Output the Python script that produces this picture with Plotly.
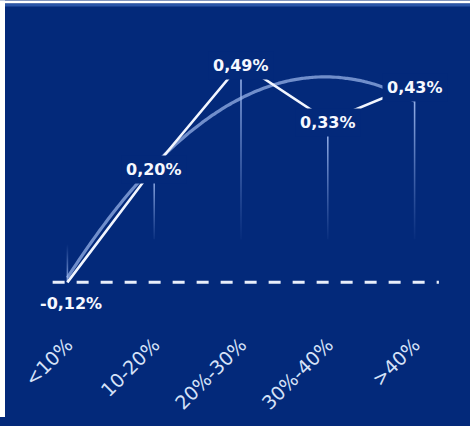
import numpy as np
import plotly.graph_objects as go

# ---- data ----
categories = ["<10%", "10-20%", "20%-30%", "30%-40%", ">40%"]
values = [-0.12, 0.20, 0.49, 0.33, 0.43]
value_labels = ["-0,12%", "0,20%", "0,49%", "0,33%", "0,43%"]

BG = "#03297a"
xpos = list(range(len(categories)))

fig = go.Figure()

# thin vertical fading lines from zero to each value
half_w = 0.009
for i, v in zip(xpos, values):
    fig.add_trace(go.Scatter(
        x=[i - half_w, i + half_w, i + half_w, i - half_w, i - half_w],
        y=[0, 0, v, v, 0],
        mode="lines", line=dict(width=0), fill="toself",
        fillgradient=dict(type="vertical",
                          colorscale=[[0, "rgba(140,170,235,0)"], [1, "rgba(175,200,250,0.95)"]],
                          start=0, stop=v),
        hoverinfo="skip", showlegend=False))

# polynomial trend line (least squares, 2nd order) derived from the data
coef = np.polyfit(xpos, values, 2)
xs = np.linspace(xpos[0], xpos[-1], 120)
fig.add_trace(go.Scatter(x=xs, y=np.polyval(coef, xs), mode="lines",
                         line=dict(color="rgba(160,185,238,0.7)", width=3.2, shape="spline"),
                         hoverinfo="skip", showlegend=False))

# main line
fig.add_trace(go.Scatter(x=xpos, y=values, mode="lines",
                         line=dict(color="#f2f6ff", width=2.6),
                         hoverinfo="skip", showlegend=False))

# dashed baseline at the minimum value
fig.add_shape(type="line", xref="x", yref="y", x0=-0.17, x1=4.28,
              y0=min(values), y1=min(values),
              line=dict(color="#e8eefa", width=3, dash="12px,12px"))

# value labels (background masks the lines behind them)
for i, (v, t) in enumerate(zip(values, value_labels)):
    first = v < 0
    fig.add_annotation(x=i, y=v, text=t, showarrow=False,
                       xshift=4 if first else 0,
                       yshift=-21 if first else -2,
                       font=dict(family="DejaVu Sans", size=16, color="#f6f8ff", weight="bold"),
                       bgcolor=None if first else BG, borderpad=4)

# frame: white strips on left and top
L, R, T, B = 24, 12, 24, 90
W = 470 - L - R
H = 426 - T - B
fig.add_shape(type="rect", xref="paper", yref="paper",
              x0=-L / W, x1=(5 - L) / W, y0=-B / H, y1=1 + T / H,
              line=dict(width=0), fillcolor="white", layer="above")
fig.add_shape(type="rect", xref="paper", yref="paper",
              x0=-L / W, x1=1 + R / W, y0=1 + (T - 3) / H, y1=1 + T / H,
              line=dict(width=0), fillcolor="white", layer="above")
fig.add_shape(type="rect", xref="paper", yref="paper",
              x0=(5 - L) / W, x1=1 + R / W, y0=1 + (T - 6) / H, y1=1 + (T - 3) / H,
              line=dict(width=0), fillcolor="#2a55a8", layer="above")

fig.update_layout(
    width=470, height=426,
    margin=dict(l=L, r=R, t=T, b=B),
    paper_bgcolor=BG, plot_bgcolor=BG,
    showlegend=False,
    xaxis=dict(range=[-0.5, 4.5], tickmode="array", tickvals=xpos, ticktext=categories,
               tickangle=-45, showgrid=False, zeroline=False, showline=False, ticks="",
               tickfont=dict(family="DejaVu Sans", size=19, color="#d6e2f8")),
    yaxis=dict(range=[-0.25, 0.60], showgrid=False, zeroline=False, showline=False,
               showticklabels=False, ticks=""),
)

fig.write_html(
    "out.html",
    config={"displayModeBar": False},
    post_script=(
        "document.body.style.margin='0px';"
        "document.body.style.overflow='hidden';"
        "document.body.style.background='" + BG + "';"
        "document.documentElement.style.background='" + BG + "';"
    ),
)
